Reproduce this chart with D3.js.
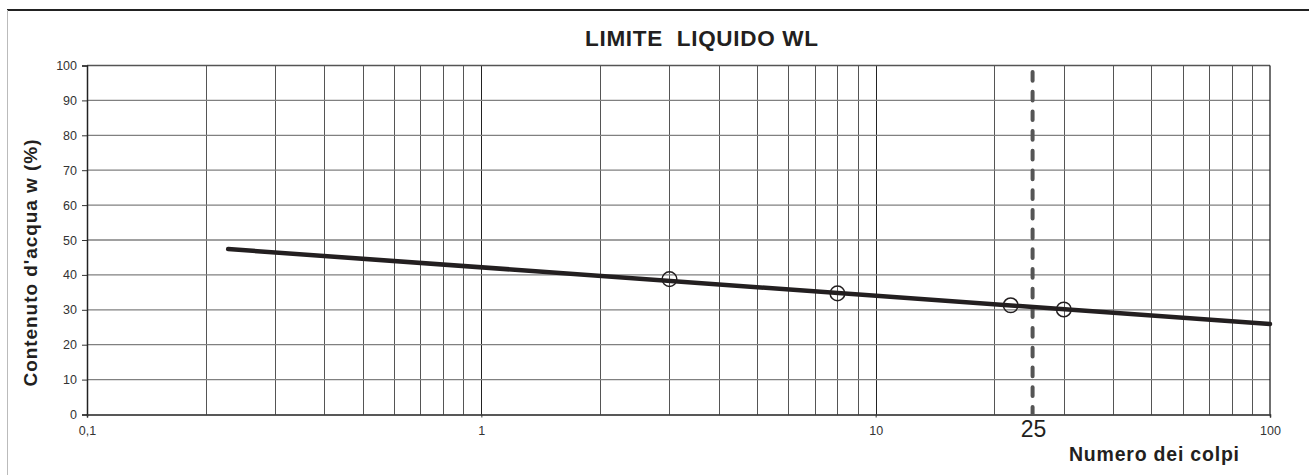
<!DOCTYPE html>
<html>
<head>
<meta charset="utf-8">
<script src="https://cdn.jsdelivr.net/npm/d3@7"></script>
<style>
  html, body { margin: 0; padding: 0; background: #fff; }
  svg { display: block; }
  text { font-family: "Liberation Sans", Arial, sans-serif; }
</style>
</head>
<body>
<svg id="chart" width="1309" height="475"></svg>
<script>
// ---- data ----
const titleText = "LIMITE  LIQUIDO WL";
const xTitle = "Numero dei colpi";
const yTitle = "Contenuto d'acqua w (%)";
const xTickValues = [0.1, 1, 10, 100];
const xTickLabels = ["0,1", "1", "10", "100"];
const yTickValues = [0, 10, 20, 30, 40, 50, 60, 70, 80, 90, 100];
const refBlows = 25;
const refLabel = "25";
// measured points (number of blows, water content %)
const pointBlows = [3, 8, 22, 30];
const pointWater = [38.8, 34.7, 31.3, 30.1];
// fitted line endpoints
const lineBlows = [0.228, 100];
const lineWater = [47.4, 25.9];

(function () {
  // ---- layout ----
  const W = 1309, H = 475;
  const pLeft = 87, pRight = 1270, pTop = 65.5, pBottom = 414.5;

  const svg = d3.select("#chart");
  svg.append("rect").attr("width", W).attr("height", H).attr("fill", "#fff");

  // frame
  svg.append("line").attr("x1", 7).attr("x2", W).attr("y1", 10).attr("y2", 10)
    .attr("stroke", "#222").attr("stroke-width", 2);
  svg.append("line").attr("x1", 7.5).attr("x2", 7.5).attr("y1", 10).attr("y2", H)
    .attr("stroke", "#bbb").attr("stroke-width", 1);

  const x = d3.scaleLog().domain([0.1, 100]).range([pLeft, pRight]);
  const y = d3.scaleLinear().domain([0, 100]).range([pBottom, pTop]);

  // vertical grid
  const vGrid = [];
  [0.1, 1, 10].forEach(d => { for (let k = 1; k <= 9; k++) { const v = +(d * k).toPrecision(3); if (v > 0.1) vGrid.push(v); } });
  svg.append("g").selectAll("line").data(vGrid).join("line")
    .attr("x1", d => Math.round(x(d)) + 0.5).attr("x2", d => Math.round(x(d)) + 0.5)
    .attr("y1", pTop).attr("y2", pBottom)
    .attr("stroke", d => (Math.abs(Math.log10(d) - Math.round(Math.log10(d))) < 1e-9) ? "#222" : "#555")
    .attr("stroke-width", 1);

  // horizontal grid
  svg.append("g").selectAll("line").data(yTickValues.filter(v => v > 0 && v < 100)).join("line")
    .attr("x1", pLeft).attr("x2", pRight)
    .attr("y1", d => y(d)).attr("y2", d => y(d))
    .attr("stroke", "#808080").attr("stroke-width", 1.3);

  // plot border
  svg.append("line").attr("x1", pLeft).attr("x2", pRight).attr("y1", pTop).attr("y2", pTop)
    .attr("stroke", "#555").attr("stroke-width", 1.5);
  svg.append("line").attr("x1", pRight).attr("x2", pRight).attr("y1", pTop).attr("y2", pBottom)
    .attr("stroke", "#222").attr("stroke-width", 1.3);

  // axes
  const yAxis = d3.axisLeft(y).tickValues(yTickValues).tickSize(5).tickPadding(5).tickFormat(d3.format("d"));
  const gy = svg.append("g").attr("transform", `translate(${pLeft},0)`).call(yAxis);
  gy.attr("font-size", null).attr("font-family", null);
  gy.select(".domain").attr("stroke", "#222").attr("stroke-width", 1.5);
  gy.selectAll(".tick line").attr("stroke", "#333");
  gy.selectAll(".tick text").style("font-size", "12.5px").attr("fill", "#333");

  const xAxis = d3.axisBottom(x).tickValues(xTickValues).tickSize(3).tickPadding(9)
    .tickFormat((d, i) => xTickLabels[i]);
  const gx = svg.append("g").attr("transform", `translate(0,${pBottom})`).call(xAxis);
  gx.attr("font-size", null).attr("font-family", null);
  gx.select(".domain").attr("stroke", "#222").attr("stroke-width", 1.5);
  gx.selectAll(".tick line").attr("stroke", "#333");
  gx.selectAll(".tick text").style("font-size", "12.5px").attr("fill", "#333");

  // reference dashed line at 25 blows
  svg.append("line")
    .attr("x1", x(refBlows)).attr("x2", x(refBlows))
    .attr("y1", 72).attr("y2", 414)
    .attr("stroke", "#555").attr("stroke-width", 4)
    .attr("stroke-linecap", "round")
    .attr("stroke-dasharray", "8.7 11");

  // fitted line
  const lineData = lineBlows.map((b, i) => [b, lineWater[i]]);
  svg.append("path").datum(lineData)
    .attr("d", d3.line().x(d => x(d[0])).y(d => y(d[1])))
    .attr("fill", "none").attr("stroke", "#231f20").attr("stroke-width", 4.5)
    .attr("stroke-linecap", "round");

  // points
  const pts = pointBlows.map((b, i) => [b, pointWater[i]]);
  svg.append("g").selectAll("circle").data(pts).join("circle")
    .attr("cx", d => x(d[0])).attr("cy", d => y(d[1])).attr("r", 7.3)
    .attr("fill", "none").attr("stroke", "#231f20").attr("stroke-width", 1.5);

  // texts
  svg.append("text").attr("x", 585).attr("y", 46)
    .style("font-size", "22.5px").attr("font-weight", "bold").attr("fill", "#231f20")
    .attr("textLength", 233).attr("lengthAdjust", "spacing")
    .style("white-space", "pre").text(titleText);

  svg.append("text").attr("x", x(refBlows) + 1).attr("y", 437)
    .attr("text-anchor", "middle").style("font-size", "23px").attr("fill", "#231f20")
    .text(refLabel);

  svg.append("text").attr("x", 1069).attr("y", 461)
    .style("font-size", "19.5px").attr("font-weight", "bold").attr("fill", "#231f20")
    .attr("textLength", 170).attr("lengthAdjust", "spacing")
    .text(xTitle);

  svg.append("text").attr("transform", "translate(37,263) rotate(-90)")
    .attr("text-anchor", "middle")
    .style("font-size", "19px").attr("font-weight", "bold").attr("fill", "#231f20")
    .attr("textLength", 247).attr("lengthAdjust", "spacing")
    .text(yTitle);
})();
</script>
</body>
</html>
